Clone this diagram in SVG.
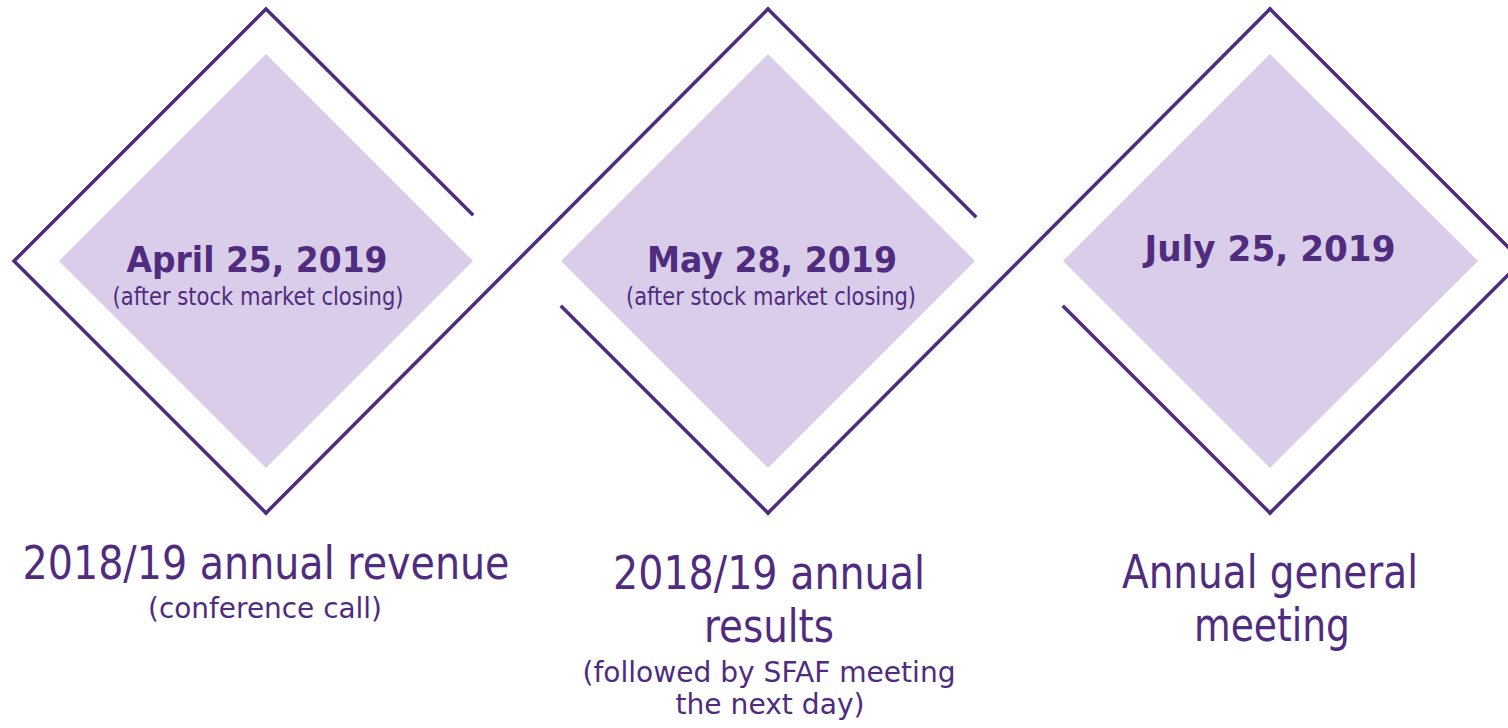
<svg xmlns="http://www.w3.org/2000/svg" width="1508" height="728" viewBox="0 0 1508 728">
<style>
.outline{fill:none;stroke:#4f2c7e;stroke-width:3.5;stroke-linecap:square;stroke-linejoin:miter}
.inner{fill:#d9cdea;stroke:none}
.date{font-family:"DejaVu Sans","Liberation Sans",sans-serif;font-weight:bold;font-size:35px;fill:#4f2c7e;text-anchor:middle}
.note{font-family:"DejaVu Sans","Liberation Sans",sans-serif;font-size:24px;fill:#4f2c7e;text-anchor:middle}
.label{font-family:"DejaVu Sans","Liberation Sans",sans-serif;font-size:46px;fill:#4f2c7e;text-anchor:middle}
.sub{font-family:"DejaVu Sans","Liberation Sans",sans-serif;font-size:29px;fill:#4f2c7e;text-anchor:middle}
</style>
<rect width="1508" height="728" fill="#ffffff"/>
<g id="connectors">
<path class="outline" d="M266,513 L768,9"/>
<path class="outline" d="M768,513 L1270,9"/>
</g>
<g id="node-april">
<path class="outline" d="M472,214 L266,9 L14,261 L266,513"/>
<polygon class="inner" points="266,54 473,261 266,468 59,261"/>
<text class="date" x="257" y="272" textLength="261" lengthAdjust="spacingAndGlyphs">April 25, 2019</text>
<text class="note" x="258" y="305" textLength="291" lengthAdjust="spacingAndGlyphs">(after stock market closing)</text>
<text class="label" x="266" y="579" textLength="487" lengthAdjust="spacingAndGlyphs">2018/19 annual revenue</text>
<text class="sub" x="265" y="618" textLength="234" lengthAdjust="spacingAndGlyphs">(conference call)</text>
</g>
<g id="node-may">
<path class="outline" d="M975,216 L768,9"/>
<path class="outline" d="M562,307 L768,513"/>
<polygon class="inner" points="768,54 975,261 768,468 561,261"/>
<text class="date" x="772" y="272" textLength="250" lengthAdjust="spacingAndGlyphs">May 28, 2019</text>
<text class="note" x="771" y="305" textLength="290" lengthAdjust="spacingAndGlyphs">(after stock market closing)</text>
<text class="label" x="769" y="589" textLength="312" lengthAdjust="spacingAndGlyphs">2018/19 annual</text>
<text class="label" x="769" y="642" textLength="130" lengthAdjust="spacingAndGlyphs">results</text>
<text class="sub" x="769" y="682" textLength="373" lengthAdjust="spacingAndGlyphs">(followed by SFAF meeting</text>
<text class="sub" x="770" y="714" textLength="189" lengthAdjust="spacingAndGlyphs">the next day)</text>
</g>
<g id="node-july">
<path class="outline" d="M1270,9 L1522,261 L1270,513"/>
<path class="outline" d="M1064,307 L1270,513"/>
<polygon class="inner" points="1270,54 1478,261 1270,468 1063,261"/>
<text class="date" x="1270" y="261" textLength="251" lengthAdjust="spacingAndGlyphs">July 25, 2019</text>
<text class="label" x="1270" y="588" textLength="296" lengthAdjust="spacingAndGlyphs">Annual general</text>
<text class="label" x="1272" y="641" textLength="156" lengthAdjust="spacingAndGlyphs">meeting</text>
</g>
</svg>
